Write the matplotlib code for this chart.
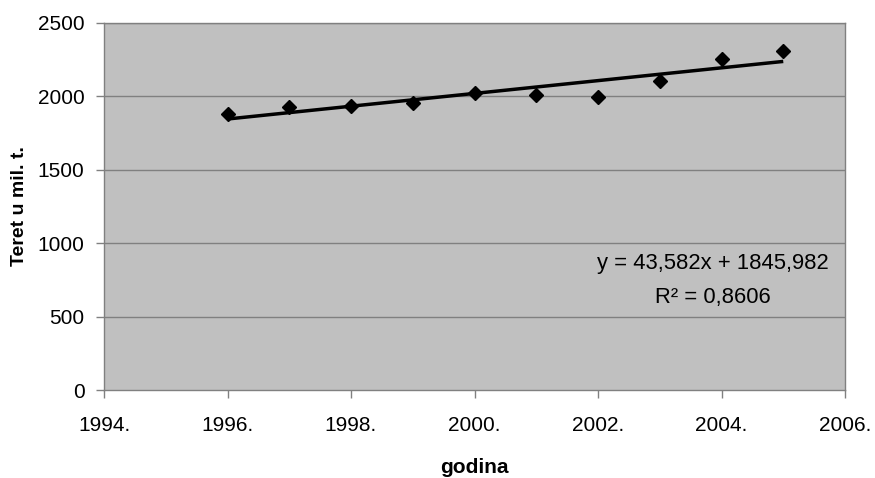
import matplotlib
matplotlib.use("Agg")
import matplotlib.pyplot as plt
import numpy as np

plt.rcParams['font.family'] = ['Liberation Sans', 'DejaVu Sans']

years = [1996, 1997, 1998, 1999, 2000, 2001, 2002, 2003, 2004, 2005]
teret = [1878, 1930, 1937, 1957, 2021, 2010, 1996, 2107, 2253, 2311]
slope = 43.582
intercept = 1845.982
r2 = 0.8606
x_ticks = [1994, 1996, 1998, 2000, 2002, 2004, 2006]
y_ticks = [0, 500, 1000, 1500, 2000, 2500]

fig = plt.figure(figsize=(8.75, 4.78), dpi=100)
ax = fig.add_axes([104/875, 1-390/478, (845-104)/875, (390-23)/478])
ax.set_facecolor('#C0C0C0')

grid_c = '#808080'
for yv in y_ticks[1:]:
    ax.axhline(yv, color=grid_c, lw=1, zorder=1)

ax.plot(years, teret, linestyle='none', marker='D', ms=7,
        color='black', zorder=3)

x0 = years[0]
tx = np.array([years[0], years[-1]])
ty = intercept + slope * (tx - x0)
ax.plot(tx, ty, color='black', lw=2.5, zorder=4, solid_capstyle='butt')

ax.set_xlim(x_ticks[0], x_ticks[-1])
ax.set_ylim(y_ticks[0], y_ticks[-1])
ax.set_xticks(x_ticks)
ax.set_xticklabels([f"{v}." for v in x_ticks])
ax.set_yticks(y_ticks)
ax.set_yticklabels([str(v) for v in y_ticks])

for s in ax.spines.values():
    s.set_color(grid_c)
    s.set_linewidth(1)

ax.tick_params(axis='x', direction='out', length=6, width=1, color=grid_c,
               labelsize=15, pad=13)
ax.tick_params(axis='y', direction='out', length=6, width=1, color=grid_c,
               labelsize=15, pad=8)

ax.set_xlabel('godina', fontsize=15, fontweight='bold', labelpad=16)
ax.set_ylabel('Teret u mil. t.', fontsize=14, fontweight='bold')
ax.yaxis.set_label_coords(-(104-28)/741, 0.5)

eq = f"y = {slope:.3f}x + {intercept:.3f}".replace('.', ',')
r2t = f"R\u00b2 = {r2:.4f}".replace('.', ',')
ax.text((713-104)/741, (390-263)/367, eq, transform=ax.transAxes,
        ha='center', va='center', fontsize=15.8, zorder=5)
ax.text((713-104)/741, (390-298)/367, r2t, transform=ax.transAxes,
        ha='center', va='center', fontsize=15.8, zorder=5)

fig.savefig('out.png', dpi=100)
